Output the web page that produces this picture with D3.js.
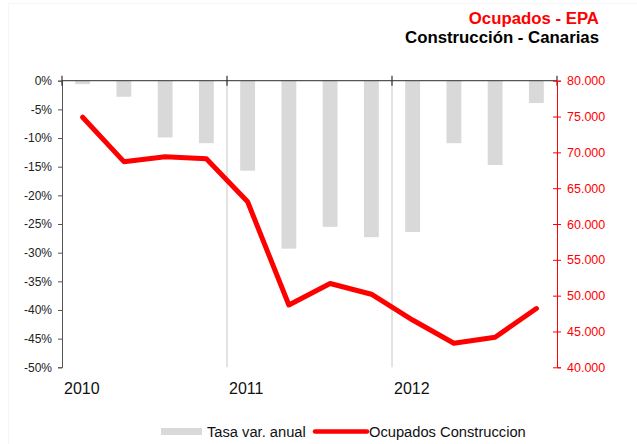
<!DOCTYPE html>
<html>
<head>
<meta charset="utf-8">
<script src="https://cdn.jsdelivr.net/npm/d3@7"></script>
<style>
  body { margin: 0; background: #fff; }
  svg text { font-family: "Liberation Sans", Arial, sans-serif; }
</style>
</head>
<body>
<div id="chart"></div>
<script>
// quarters 2010 T1 .. 2012 T4
var quarters = ["2010T1", "2010T2", "2010T3", "2010T4",
                "2011T1", "2011T2", "2011T3", "2011T4",
                "2012T1", "2012T2", "2012T3", "2012T4"];
var years = ["2010", "2011", "2012"];
// annual rate of change (%)
var tasaVar = [-0.6, -2.8, -9.9, -10.9, -15.7, -29.3, -25.5, -27.3, -26.4, -10.9, -14.7, -3.9];
// employed in construction
var ocupados = [74900, 68700, 69400, 69100, 63100, 48700, 51700, 50200, 46600, 43350, 44200, 48200];
var leftTicks = [0, -5, -10, -15, -20, -25, -30, -35, -40, -45, -50];
var rightTicks = [80000, 75000, 70000, 65000, 60000, 55000, 50000, 45000, 40000];

var svgWidth = 637;
var svgHeight = 444;
var margin = { top: 80.7, right: 80, bottom: 77, left: 62 };
var width = 557 - margin.left;
var height = 367.3 - margin.top;

var svg = d3.select("#chart")
  .append("svg")
  .attr("width", svgWidth)
  .attr("height", svgHeight);

// faint frame
svg.append("rect")
  .attr("x", 8.5).attr("y", 3.5)
  .attr("width", 640).attr("height", 450)
  .attr("fill", "none")
  .attr("stroke", "#f6f6f6");

var chartGroup = svg.append("g")
  .attr("transform", `translate(${margin.left}, ${margin.top})`);

var x = d3.scaleBand().domain(quarters).range([0, width]).paddingInner(0.64).paddingOuter(0.32);
var yLeft = d3.scaleLinear().domain([-50, 0]).range([height, 0]);
var yRight = d3.scaleLinear().domain([40000, 80000]).range([height, 0]);
var yearWidth = width / years.length;

// year gridlines (2011, 2012)
chartGroup.selectAll(".grid")
  .data(years.slice(1))
  .enter().append("line")
  .attr("x1", (d, i) => (i + 1) * yearWidth)
  .attr("x2", (d, i) => (i + 1) * yearWidth)
  .attr("y1", 0).attr("y2", height)
  .attr("stroke", "#c8c8c8").attr("stroke-width", 1);

// bars
chartGroup.selectAll(".bar")
  .data(tasaVar)
  .enter().append("rect")
  .attr("x", (d, i) => x(quarters[i]))
  .attr("y", yLeft(0))
  .attr("width", x.bandwidth())
  .attr("height", d => yLeft(d) - yLeft(0))
  .attr("fill", "#d9d9d9");

// left axis
var leftAxis = d3.axisLeft(yLeft)
  .tickValues(leftTicks)
  .tickSize(4)
  .tickPadding(6)
  .tickFormat(d => d + "%");
var yAxisL = chartGroup.append("g").call(leftAxis);
yAxisL.select(".domain").attr("stroke", "#555");
yAxisL.selectAll(".tick line").attr("stroke", "#555");
yAxisL.selectAll("text").attr("fill", "#222").style("font-size", "12px");

// top (zero) line with year ticks
chartGroup.append("line")
  .attr("x1", 0).attr("x2", width)
  .attr("y1", 0).attr("y2", 0)
  .attr("stroke", "#555").attr("stroke-width", 1.2);
chartGroup.selectAll(".ytick")
  .data(d3.range(years.length + 1))
  .enter().append("line")
  .attr("x1", d => d * yearWidth).attr("x2", d => d * yearWidth)
  .attr("y1", -5).attr("y2", 5)
  .attr("stroke", "#333").attr("stroke-width", 1.2);

// year labels
chartGroup.selectAll(".yearLabel")
  .data(years)
  .enter().append("text")
  .attr("x", (d, i) => i * yearWidth + 2)
  .attr("y", height + 26.5)
  .style("font-size", "16px")
  .attr("fill", "#111")
  .text(d => d);

// right axis
var fmt = d => d3.format(",")(d).replace(/,/g, ".");
var rightAxis = d3.axisRight(yRight)
  .tickValues(rightTicks)
  .tickSize(4)
  .tickPadding(6)
  .tickFormat(fmt);
var yAxisR = chartGroup.append("g")
  .attr("transform", `translate(${width}, 0)`)
  .call(rightAxis);
yAxisR.select(".domain").attr("stroke", "#ff0000");
yAxisR.selectAll(".tick line").attr("stroke", "#ff0000").attr("x1", -4);
yAxisR.selectAll("text").attr("fill", "#ff0000").style("font-size", "12.5px");

// line
var line = d3.line()
  .x((d, i) => x(quarters[i]) + x.bandwidth() / 2)
  .y(d => yRight(d));
chartGroup.append("path")
  .datum(ocupados)
  .attr("d", line)
  .attr("fill", "none")
  .attr("stroke", "#ff0000")
  .attr("stroke-width", 5)
  .attr("stroke-linecap", "round")
  .attr("stroke-linejoin", "round");

// titles
svg.append("text")
  .attr("x", 599).attr("y", 24)
  .attr("text-anchor", "end")
  .style("font-size", "16.8px").style("font-weight", "bold")
  .attr("fill", "#ff0000")
  .text("Ocupados - EPA");
svg.append("text")
  .attr("x", 599).attr("y", 43)
  .attr("text-anchor", "end")
  .style("font-size", "16.8px").style("font-weight", "bold")
  .attr("fill", "#000")
  .text("Construcción - Canarias");

// legend
var legend = svg.append("g");
legend.append("rect")
  .attr("x", 161).attr("y", 428)
  .attr("width", 41).attr("height", 7)
  .attr("fill", "#d9d9d9");
legend.append("text")
  .attr("x", 207).attr("y", 437)
  .style("font-size", "14.7px")
  .attr("fill", "#111")
  .text("Tasa var. anual");
legend.append("line")
  .attr("x1", 315).attr("x2", 367)
  .attr("y1", 431.5).attr("y2", 431.5)
  .attr("stroke", "#ff0000").attr("stroke-width", 4.5)
  .attr("stroke-linecap", "round");
legend.append("text")
  .attr("x", 369).attr("y", 437)
  .style("font-size", "14.7px")
  .attr("fill", "#111")
  .text("Ocupados Construccion");
</script>
</body>
</html>
